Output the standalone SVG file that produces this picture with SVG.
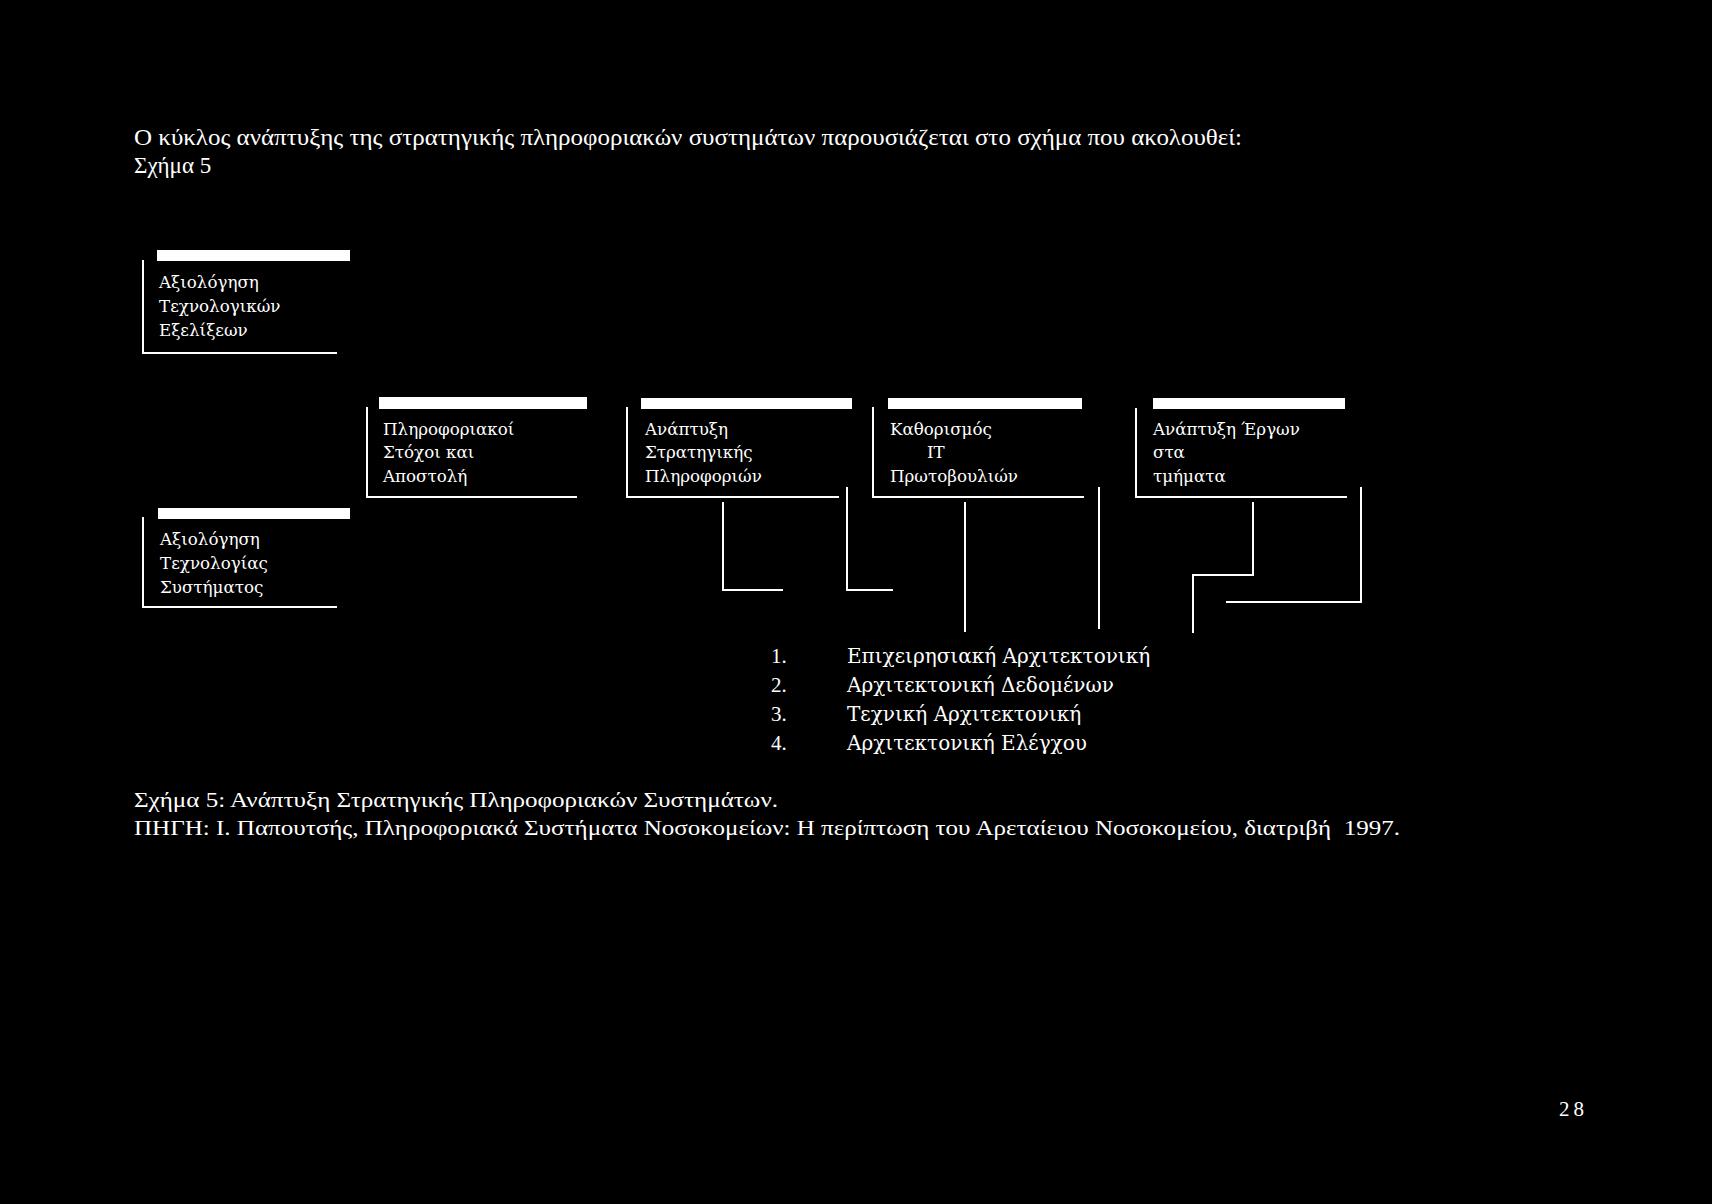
<svg xmlns="http://www.w3.org/2000/svg" width="1712" height="1204" viewBox="0 0 1712 1204">
<style>
.t{font-family:"Liberation Serif","Times New Roman",serif;fill:#fff}
.d{font-family:"DejaVu Serif","Liberation Serif",serif;fill:#fff}
.n{font-size:16.7px}
.b{font-size:23px}
.l{font-size:20px}
.c{font-size:21px}
.bar{fill:#fff}
.ln{stroke:#fff;stroke-width:2;fill:none}
</style>
<rect width="1712" height="1204" fill="#000"/>
<text class="t b" x="134" y="145" textLength="1108" lengthAdjust="spacingAndGlyphs">Ο κύκλος ανάπτυξης της στρατηγικής πληροφοριακών συστημάτων παρουσιάζεται στο σχήμα που ακολουθεί:</text>
<text class="t b" x="134" y="173">Σχήμα 5</text>

<g id="node-tech-evolutions">
<rect class="bar" x="157" y="250" width="193" height="11"/>
<path class="ln" d="M143 260V353H337"/>
<text class="d n" x="159" y="288">Αξιολόγηση</text>
<text class="d n" x="159" y="312">Τεχνολογικών</text>
<text class="d n" x="159" y="336">Εξελίξεων</text>
</g>

<g id="node-system-tech">
<rect class="bar" x="158" y="508" width="192" height="11"/>
<path class="ln" d="M143 517V607H337"/>
<text class="d n" x="160" y="545">Αξιολόγηση</text>
<text class="d n" x="160" y="569">Τεχνολογίας</text>
<text class="d n" x="160" y="593">Συστήματος</text>
</g>

<g id="node-info-goals">
<rect class="bar" x="379" y="397" width="208" height="12"/>
<path class="ln" d="M367 407V497H577"/>
<text class="d n" x="383" y="435">Πληροφοριακοί</text>
<text class="d n" x="383" y="458">Στόχοι και</text>
<text class="d n" x="383" y="482">Αποστολή</text>
</g>

<g id="node-strategy">
<rect class="bar" x="641" y="398" width="211" height="11"/>
<path class="ln" d="M627 407V497H839"/>
<text class="d n" x="645" y="435">Ανάπτυξη</text>
<text class="d n" x="645" y="458">Στρατηγικής</text>
<text class="d n" x="645" y="482">Πληροφοριών</text>
</g>

<g id="node-it">
<rect class="bar" x="888" y="398" width="194" height="11"/>
<path class="ln" d="M873 407V497H1084"/>
<text class="d n" x="890" y="435">Καθορισμός</text>
<text class="d n" x="927" y="458">IT</text>
<text class="d n" x="890" y="482">Πρωτοβουλιών</text>
</g>

<g id="node-projects">
<rect class="bar" x="1153" y="398" width="192" height="11"/>
<path class="ln" d="M1136 408V497H1347"/>
<text class="d n" x="1153" y="435">Ανάπτυξη Έργων</text>
<text class="d n" x="1153" y="458">στα</text>
<text class="d n" x="1153" y="482">τμήματα</text>
</g>

<g id="connectors">
<path class="ln" d="M723 502V590H783"/>
<path class="ln" d="M847 487V590H893"/>
<path class="ln" d="M965 502V632"/>
<path class="ln" d="M1099 487V629"/>
<path class="ln" d="M1253 502V575H1193V633"/>
<path class="ln" d="M1361 487V602H1226"/>
</g>

<g id="list">
<text class="t c" x="771" y="663">1.</text>
<text class="d l" x="847" y="663">Επιχειρησιακή Αρχιτεκτονική</text>
<text class="t c" x="771" y="692">2.</text>
<text class="d l" x="847" y="692">Αρχιτεκτονική Δεδομένων</text>
<text class="t c" x="771" y="721">3.</text>
<text class="d l" x="847" y="721">Τεχνική Αρχιτεκτονική</text>
<text class="t c" x="771" y="750">4.</text>
<text class="d l" x="847" y="750">Αρχιτεκτονική Ελέγχου</text>
</g>

<text class="t c" x="134" y="807" textLength="644" lengthAdjust="spacingAndGlyphs">Σχήμα 5: Ανάπτυξη Στρατηγικής Πληροφοριακών Συστημάτων.</text>
<text class="t c" x="134" y="835" textLength="1266" lengthAdjust="spacingAndGlyphs" xml:space="preserve">ΠΗΓΗ: Ι. Παπουτσής, Πληροφοριακά Συστήματα Νοσοκομείων: Η περίπτωση του Αρεταίειου Νοσοκομείου, διατριβή  1997.</text>
<text class="t c" x="1559" y="1116" letter-spacing="4">28</text>
</svg>
